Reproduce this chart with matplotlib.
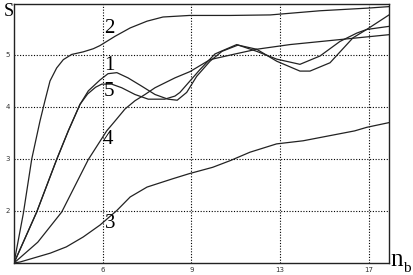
import matplotlib
matplotlib.use("Agg")
import matplotlib.pyplot as plt

# x is in tick-slot units: the n_b ticks 6, 9, 13, 17 sit equally spaced
x_ticks = [1, 2, 3, 4]
x_tick_labels = ["6", "9", "13", "17"]
y_ticks = [2, 3, 4, 5]

x1 = [0, 0.256, 0.481, 0.612, 0.744, 0.838, 0.97, 1.06, 1.16, 1.285, 1.44, 1.59,
      1.736, 1.84, 1.947, 2.060, 2.21, 2.345, 2.525, 2.736, 2.962, 3.224, 3.337, 3.563,
      3.822, 3.976, 4.228]
y1 = [1, 1.98, 2.99, 3.54, 4.05, 4.31, 4.52, 4.64, 4.66, 4.56, 4.40, 4.24,
      4.15, 4.13, 4.28, 4.59, 4.88, 5.07, 5.19, 5.11, 4.88, 4.69, 4.69, 4.85,
      5.33, 5.49, 5.77]

x2 = [0, 0.105, 0.20, 0.293, 0.349, 0.406, 0.481, 0.556, 0.650, 0.781, 0.894, 0.969,
      1.14, 1.31, 1.50, 1.68, 1.98, 2.44, 2.89, 3.45, 3.98, 4.23]
y2 = [1, 1.95, 3.00, 3.73, 4.12, 4.50, 4.75, 4.91, 5.01, 5.06, 5.12, 5.18,
      5.36, 5.52, 5.65, 5.73, 5.76, 5.76, 5.77, 5.85, 5.90, 5.93]

x3 = [0, 0.07, 0.41, 0.59, 0.78, 0.97, 1.16, 1.31, 1.50, 1.79, 1.98, 2.24, 2.44, 2.66,
      2.96, 3.26, 3.84, 3.98, 4.23]
y3 = [1, 1.02, 1.19, 1.31, 1.50, 1.73, 2.01, 2.27, 2.46, 2.62, 2.72, 2.84, 2.97, 3.13,
      3.29, 3.35, 3.54, 3.61, 3.70]

x4 = [0, 0.268, 0.538, 0.838, 1.045, 1.139, 1.251, 1.364, 1.477, 1.59, 1.815, 1.984,
      2.21, 2.469, 2.736, 3.112, 4.228]
y4 = [1, 1.40, 1.98, 2.99, 3.54, 3.73, 3.96, 4.12, 4.24, 4.37, 4.56, 4.68,
      4.91, 5.01, 5.11, 5.20, 5.39]

x5 = [0, 0.256, 0.481, 0.612, 0.744, 0.83, 0.92, 0.99, 1.10, 1.214, 1.364, 1.514,
      1.70, 1.815, 1.871, 1.984, 2.097, 2.266, 2.511, 2.736, 2.962, 3.224, 3.45, 3.675,
      3.864, 3.976, 4.228]
y5 = [1, 1.98, 2.99, 3.54, 4.05, 4.25, 4.38, 4.44, 4.44, 4.37, 4.24, 4.15,
      4.15, 4.21, 4.28, 4.50, 4.72, 5.02, 5.20, 5.07, 4.92, 4.82, 4.98, 5.26,
      5.42, 5.49, 5.55]

curves = {"1": (x1, y1), "2": (x2, y2), "3": (x3, y3), "4": (x4, y4), "5": (x5, y5)}
label_pos = {"1": (1.08, 4.80), "2": (1.08, 5.50), "3": (1.08, 1.76),
             "4": (1.06, 3.38), "5": (1.07, 4.30)}

fig = plt.figure(figsize=(4.13, 2.75), dpi=100)
ax = fig.add_axes([14 / 413, 1 - 263 / 275, 375 / 413, 259 / 275])

for name, (xs, ys) in curves.items():
    ax.plot(xs, ys, color="#222222", lw=0.9)
    lx, ly = label_pos[name]
    ax.text(lx, ly, name, family="Liberation Serif", fontsize=15,
            ha="center", va="center")

ax.set_xlim(0, 4.228)
ax.set_ylim(1, 5.98)
ax.set_xticks(x_ticks)
ax.set_xticklabels(x_tick_labels)
ax.set_yticks(y_ticks)
ax.tick_params(length=0, labelsize=5, pad=3, colors="#333333")
ax.grid(True, color="black", linestyle=(0, (1, 1.5)), linewidth=0.8)
for sp in ax.spines.values():
    sp.set_linewidth(1.0)
    sp.set_color("#222222")

fig.text(9 / 413, 1 - 12 / 275, "S", family="Liberation Serif", fontsize=13,
         ha="center", va="center")
fig.text(397 / 413, 1 - 260 / 275, "n", family="Liberation Serif", fontsize=18,
         ha="center", va="center")
fig.text(407 / 413, 1 - 268 / 275, "b", family="Liberation Serif", fontsize=11,
         ha="center", va="center")

fig.savefig("out.png", dpi=100)
